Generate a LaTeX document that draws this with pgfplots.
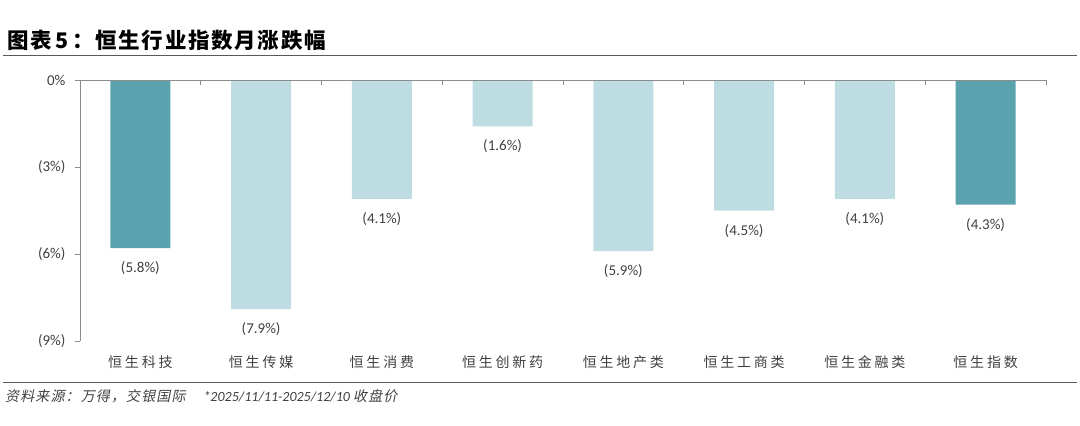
\documentclass[border=0pt]{standalone}
\usepackage{fontspec}
\usepackage{pgfplots}
\pgfplotsset{compat=1.18}
\setmainfont{Carlito}
\newfontfamily\cjk{Noto Sans CJK SC}
\newfontfamily\cjkls[LetterSpace=20]{Noto Sans CJK SC}
\newfontfamily\cjkt[LetterSpace=8]{Noto Sans CJK SC}
\newfontfamily\cjkit[FakeSlant=0.2,LetterSpace=8]{Noto Sans CJK SC}
\definecolor{darkbar}{HTML}{5AA2AE}
\definecolor{lightbar}{HTML}{BEDDE2}
\definecolor{axisgray}{HTML}{8C8C8C}
\definecolor{labelgray}{HTML}{404040}
\definecolor{rulegray}{HTML}{595959}
\begin{document}
\begin{tikzpicture}
\path[use as bounding box] (0,0) rectangle (1080pt,426pt);
\node[anchor=west, inner sep=0pt, text=black] at (7pt,386pt) {\cjkt\bfseries\fontsize{21.5}{24}\selectfont 图表\,5\,：恒生行业指数月涨跌幅};
\draw[rulegray, line width=1pt] (3pt,370.5pt) -- (1077pt,370.5pt);
\draw[rulegray, line width=1pt] (3pt,43.5pt) -- (1077pt,43.5pt);
\node[anchor=west, inner sep=0pt, text=labelgray] at (5pt,30pt) {\fontsize{14}{16}\selectfont\cjkit 资料来源：万得，交银国际\hspace{18pt}\itshape\rmfamily *2025/11/11-2025/12/10 \cjkit 收盘价};
\begin{axis}[
  at={(80pt,85pt)}, anchor=south west, scale only axis,
  width=966pt, height=261pt,
  xmin=-0.5, xmax=7.5, ymin=-9, ymax=0,
  axis lines=left,
  axis line style={-, draw=axisgray, line width=0.8pt},
  x axis line style={draw=none},
  xtick={0,...,7},
  xticklabels={恒生科技,恒生传媒,恒生消费,恒生创新药,恒生地产类,恒生工商类,恒生金融类,恒生指数},
  xtick style={draw=none},
  xticklabel style={font=\cjkls\fontsize{14}{16}\selectfont, text=labelgray, yshift=-6pt},
  ytick={-9,-6,-3,0},
  yticklabels={(9\%),(6\%),(3\%),0\%},
  ytick style={draw=axisgray, line width=0.8pt},
  tick align=outside, major tick length=5pt,
  yticklabel style={font=\fontsize{15}{17}\selectfont, text=labelgray, xshift=-6pt},
  ybar, bar width=60pt, clip=false,
  point meta=explicit,
  nodes near coords={(\pgfmathprintnumber[fixed,fixed zerofill,precision=1,assume math mode=true]{\pgfplotspointmeta}\%)},
  every node near coord/.append style={font=\fontsize{15}{17}\selectfont, text=labelgray, anchor=north, yshift=-10pt},
]
\addplot[bar shift=0pt, draw=none, fill=lightbar] coordinates {(1,-7.9) [7.9] (2,-4.1) [4.1] (3,-1.6) [1.6] (4,-5.9) [5.9] (5,-4.5) [4.5] (6,-4.1) [4.1]};
\addplot[bar shift=0pt, draw=none, fill=darkbar] coordinates {(0,-5.8) [5.8] (7,-4.3) [4.3]};
\draw[axisgray, line width=0.8pt] (axis cs:-0.5,0) -- (axis cs:7.5,0);
\pgfplotsinvokeforeach{0.5,1.5,2.5,3.5,4.5,5.5,6.5,7.5}{
  \draw[axisgray, line width=0.8pt] (axis cs:#1,0) -- ++(0pt,-5pt);
}
\end{axis}
\end{tikzpicture}
\end{document}
